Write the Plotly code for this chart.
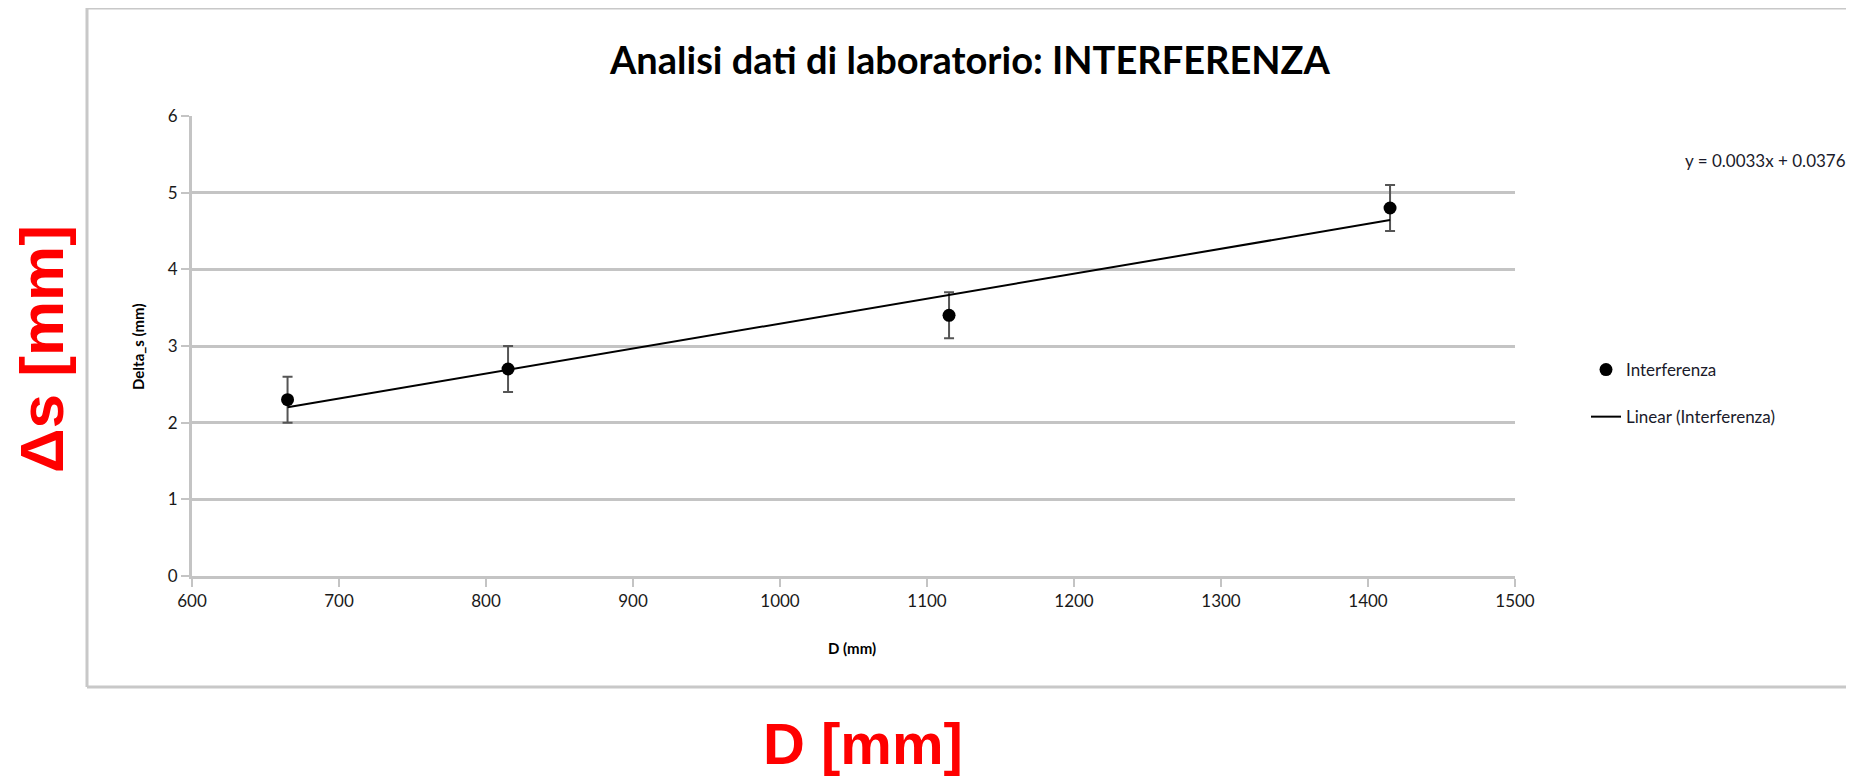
import numpy as np
import plotly.graph_objects as go

# ---- data ----
D_mm = [665, 815, 1115, 1415]
delta_s_mm = [2.3, 2.7, 3.4, 4.8]
err_mm = [0.3, 0.3, 0.3, 0.3]
x_ticks = [600, 700, 800, 900, 1000, 1100, 1200, 1300, 1400, 1500]
y_ticks = [0, 1, 2, 3, 4, 5, 6]

slope, intercept = np.polyfit(D_mm, delta_s_mm, 1)
x_fit = [min(D_mm), max(D_mm)]
y_fit = [slope * v + intercept for v in x_fit]

OFF = 8  # default page body margin
W, H = 1854 - 2 * OFF, 784 - 2 * OFF
L, R, T, B = 192 - OFF, 1515 - OFF, 116 - OFF, 576 - OFF
pw, ph = R - L, B - T


def px(x):
    # x given in window pixels
    return (x - OFF - L) / pw


def py(y):
    return (B - (y - OFF)) / ph


FONT = "Lato, Open Sans, sans-serif"
GRID = "#C4C4C4"
FRAME = "#C8C8C8"

fig = go.Figure()
fig.add_trace(go.Scatter(
    x=D_mm, y=delta_s_mm, mode="markers", name="Interferenza",
    legendgroup="a",
    marker=dict(color="black", size=13),
    error_y=dict(type="data", array=err_mm, visible=True, color="#555555",
                 thickness=2, width=5),
))
fig.add_trace(go.Scatter(
    x=x_fit, y=y_fit, mode="lines", name="Linear (Interferenza)",
    legendgroup="b",
    line=dict(color="black", width=2),
))

fig.update_layout(
    width=W, height=H,
    margin=dict(l=L, r=W - R, t=T, b=H - B, autoexpand=False),
    paper_bgcolor="white", plot_bgcolor="white",
    font=dict(family=FONT, size=17, color="#1a1a1a"),
    title=dict(text="<b>Analisi dati di laboratorio: INTERFERENZA</b>",
               x=(970 - OFF) / W, xanchor="center", y=1 - (61 - OFF) / H,
               yanchor="middle",
               font=dict(family=FONT, size=38, color="black")),
    showlegend=True,
    legend=dict(x=px(1586), xanchor="left", y=py(352), yanchor="top",
                font=dict(family=FONT, size=17, color="#1a1a2a"),
                tracegroupgap=22, bgcolor="rgba(0,0,0,0)", itemwidth=30),
    xaxis=dict(range=[600, 1500], tickvals=x_ticks, showgrid=False,
               showline=True, linecolor=GRID, linewidth=3,
               ticks="outside", ticklen=8, tickwidth=2, tickcolor=GRID,
               zeroline=False, tickfont=dict(size=17)),
    yaxis=dict(range=[0, 6], tickvals=y_ticks, showgrid=True, gridcolor=GRID,
               gridwidth=3, showline=True, linecolor=GRID, linewidth=3,
               ticks="outside", ticklen=8, tickwidth=2, tickcolor=GRID,
               zeroline=False, tickfont=dict(size=17)),
)

# outer chart frame (left, top, bottom edges; right edge lies off-page)
fx0, fx1, fy0, fy1 = px(87), px(1900), py(687), py(8)
for (a0, b0, a1, b1) in [(fx0, fy0, fx0, fy1), (fx0, fy1, fx1, fy1),
                         (fx0, fy0, fx1, fy0)]:
    fig.add_shape(type="line", xref="paper", yref="paper",
                  x0=a0, y0=b0, x1=a1, y1=b1,
                  line=dict(color=FRAME, width=3), layer="below")

fig.add_annotation(text="<b>Delta_s (mm)</b>", xref="paper", yref="paper",
                   x=px(138), y=py(347), xanchor="center", yanchor="middle",
                   textangle=-90, showarrow=False,
                   font=dict(family=FONT, size=15, color="black"))
fig.add_annotation(text="<b>D (mm)</b>", xref="paper", yref="paper",
                   x=px(852), y=py(648), xanchor="center", yanchor="middle",
                   showarrow=False,
                   font=dict(family=FONT, size=15, color="black"))
fig.add_annotation(text=f"y = {slope:.4f}x + {intercept:.4f}", xref="paper",
                   yref="paper", x=px(1848), xanchor="right", y=py(160),
                   yanchor="middle", showarrow=False,
                   font=dict(family=FONT, size=17, color="#1a1a2a"))
fig.add_annotation(text="<b>D [mm]</b>", xref="paper", yref="paper",
                   x=px(863), y=py(743), xanchor="center", yanchor="middle",
                   showarrow=False,
                   font=dict(family="Liberation Sans, Arial, sans-serif",
                             size=58, color="#FF0000"))
fig.add_annotation(text="<b>Δs [mm]</b>", xref="paper", yref="paper",
                   x=px(41), y=py(349), xanchor="center", yanchor="middle",
                   textangle=-90, showarrow=False,
                   font=dict(family="Liberation Sans, Arial, sans-serif",
                             size=62, color="#FF0000"))

fig.write_html("out.html")
